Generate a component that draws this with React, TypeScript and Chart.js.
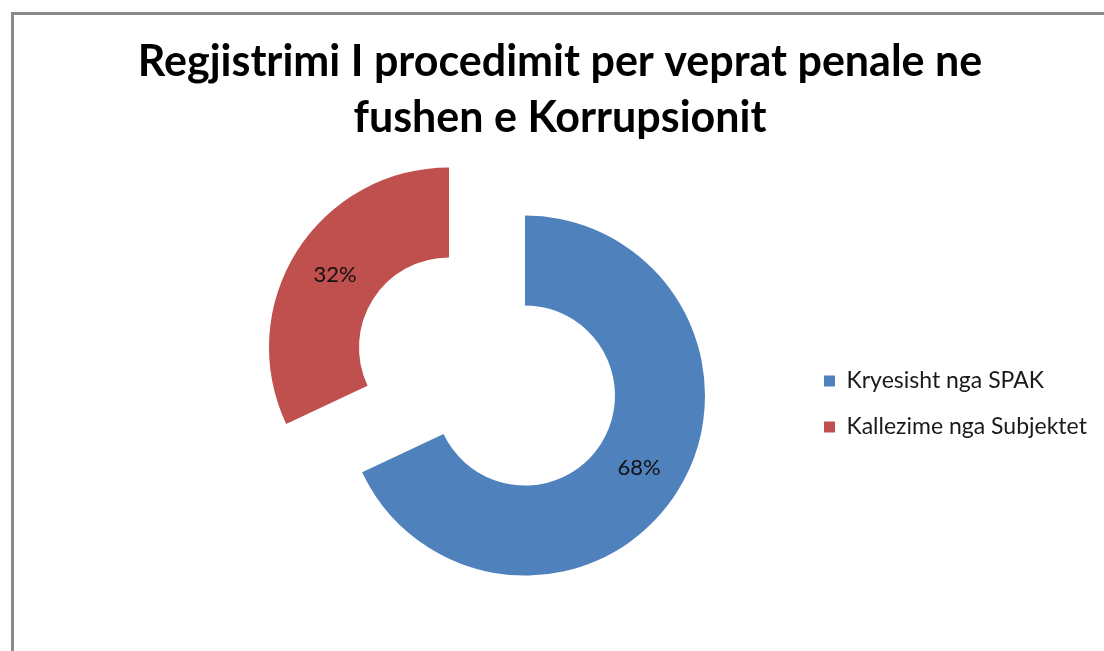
import React, { useEffect, useRef } from 'react';
import { Chart, registerables } from 'chart.js';

Chart.register(...registerables);

// ---- data ----
const categories = ['Kryesisht nga SPAK', 'Kallezime nga Subjektet'];
const shares = [68, 32];
const sliceColors = ['#4F81BD', '#C0504D'];
const titleLines = ['Regjistrimi I procedimit per veprat penale ne', 'fushen e Korrupsionit'];

// ---- layout / style constants ----
const W = 1104;
const H = 651;
const EXPLODE = 45; // px each slice is pulled out along its bisector
const PLOT_BOX = { left: 287, top: 171.5, right: 687, bottom: 571.5 };
const LEGEND_BOX = { left: 801, top: 346.5 };
const FONT = 'Lato';

const layoutPlugin = {
  id: 'fixedLayout',
  afterLayout(chart: any) {
    const b = PLOT_BOX;
    chart.chartArea = {
      left: b.left,
      top: b.top,
      right: b.right,
      bottom: b.bottom,
      width: b.right - b.left,
      height: b.bottom - b.top,
    };
    const lg = chart.legend;
    if (lg) {
      lg.left = LEGEND_BOX.left;
      lg.top = LEGEND_BOX.top;
      lg.right = W;
      lg.bottom = H;
      lg.width = W - LEGEND_BOX.left;
      lg.height = H - LEGEND_BOX.top;
    }
  },
};

const explodePlugin = {
  id: 'explodeSlices',
  afterDatasetUpdate(chart: any, args: any) {
    const meta = args.meta;
    meta.data.forEach((arc: any) => {
      const mid = (arc.startAngle + arc.endAngle) / 2;
      arc.x += Math.cos(mid) * EXPLODE;
      arc.y += Math.sin(mid) * EXPLODE;
    });
  },
};

const percentLabelPlugin = {
  id: 'percentLabels',
  afterDatasetsDraw(chart: any) {
    const ctx = chart.ctx;
    const meta = chart.getDatasetMeta(0);
    const values = chart.data.datasets[0].data as number[];
    const total = values.reduce((a, b) => a + b, 0);
    ctx.save();
    ctx.font = `22px ${FONT}`;
    ctx.fillStyle = '#111';
    ctx.textAlign = 'center';
    ctx.textBaseline = 'middle';
    meta.data.forEach((arc: any, i: number) => {
      const mid = (arc.startAngle + arc.endAngle) / 2;
      const r = (arc.innerRadius + arc.outerRadius) / 2;
      const x = arc.x + Math.cos(mid) * r;
      const y = arc.y + Math.sin(mid) * r;
      ctx.fillText(`${Math.round((values[i] / total) * 100)}%`, x, y);
    });
    ctx.restore();
  },
};

export default function App() {
  const canvasRef = useRef<HTMLCanvasElement | null>(null);

  useEffect(() => {
    if (!canvasRef.current) return;
    const chart = new Chart(canvasRef.current, {
      type: 'doughnut',
      data: {
        labels: categories,
        datasets: [
          {
            data: shares,
            backgroundColor: sliceColors,
            borderWidth: 0,
          },
        ],
      },
      options: {
        responsive: false,
        animation: false,
        events: [],
        radius: 180,
        cutout: '50%',
        layout: { padding: { left: 16, right: 0, top: 0, bottom: 0 } },
        plugins: {
          title: {
            display: true,
            text: titleLines,
            color: '#000',
            font: { family: FONT, size: 43, weight: 'bold', lineHeight: 1.3 },
            padding: { top: 34, bottom: 10 },
          },
          legend: {
            display: true,
            position: 'right',
            align: 'start',
            labels: {
              boxWidth: 11,
              boxHeight: 11,
              padding: 23,
              color: '#1a1a1a',
              font: { family: FONT, size: 23 },
            },
          },
          tooltip: { enabled: false },
        },
      },
      plugins: [layoutPlugin, explodePlugin, percentLabelPlugin],
    });
    return () => chart.destroy();
  }, []);

  return (
    <div
      style={{
        position: 'fixed',
        left: 0,
        top: 0,
        width: W,
        height: H,
        overflow: 'hidden',
        background: '#fff',
      }}
    >
      <div
        style={{
          position: 'absolute',
          left: 11,
          top: 12,
          width: 1300,
          height: 900,
          border: '3px solid #8a8a8a',
          boxSizing: 'border-box',
        }}
      />
      <canvas
        ref={canvasRef}
        width={W}
        height={H}
        style={{ position: 'absolute', left: 0, top: 0 }}
      />
    </div>
  );
}
